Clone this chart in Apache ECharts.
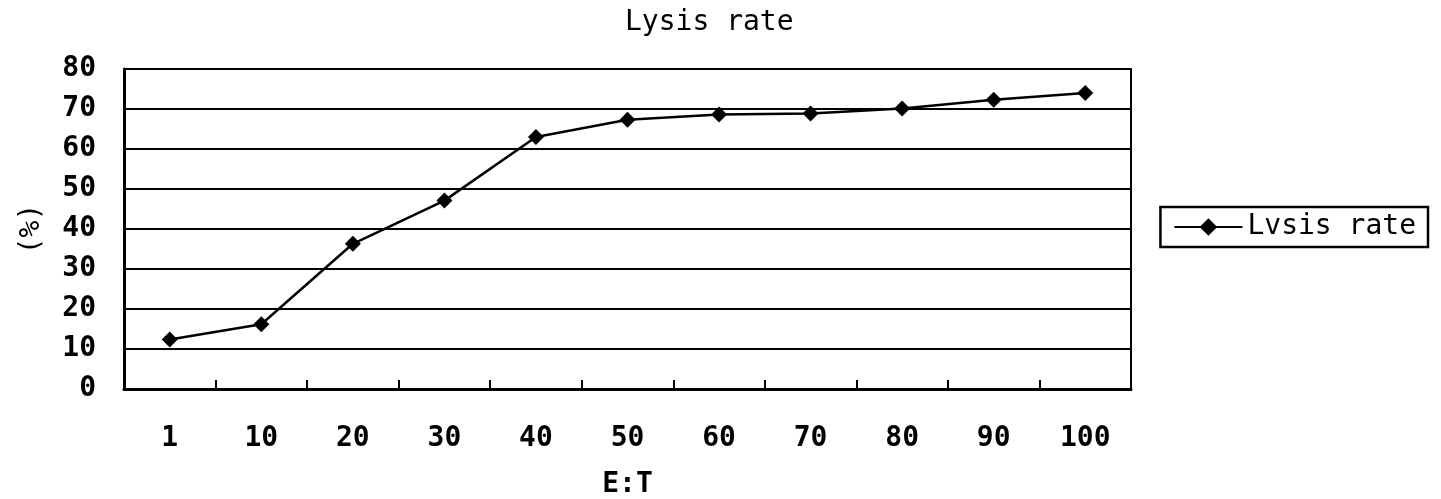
<!DOCTYPE html>
<html>
<head>
<meta charset="utf-8">
<script src="https://cdn.jsdelivr.net/npm/echarts@6/dist/echarts.min.js"></script>
<style>
  html, body { margin: 0; padding: 0; background: #fff; }
  #chart { width: 1441px; height: 499px; }
</style>
</head>
<body>
<div id="chart"></div>
<script>
// E:T ratios and lysis rate (%)
const categories = ['1', '10', '20', '30', '40', '50', '60', '70', '80', '90', '100'];
const lysisRate = [12.4, 16.2, 36.3, 47.1, 63.0, 67.3, 68.6, 68.9, 70.1, 72.3, 74.0];
const yMin = 0, yMax = 80, yStep = 10;

const font = 'DejaVu Sans Mono';
const chart = echarts.init(document.getElementById('chart'));
chart.setOption({
  animation: false,
  backgroundColor: '#fff',
  title: {
    text: 'Lysis rate',
    left: 620,
    top: 4,
    textStyle: { color: '#000', fontSize: 28, fontWeight: 'normal', fontFamily: font }
  },
  legend: {
    right: 13,
    top: 207,
    orient: 'vertical',
    borderColor: '#000',
    borderWidth: 2.5,
    padding: [6, 12, 6, 13],
    itemWidth: 68,
    itemHeight: 22,
    itemGap: 0,
    textStyle: { color: '#000', fontSize: 28, fontFamily: font },
    data: [{ name: 'Lvsis rate' }]
  },
  grid: {
    left: 124,
    right: 310,
    top: 69,
    bottom: 110,
    outerBoundsMode: 'none',
    show: true,
    borderColor: '#000',
    borderWidth: 2
  },
  xAxis: {
    type: 'category',
    data: categories,
    boundaryGap: true,
    name: 'E:T',
    nameLocation: 'middle',
    nameGap: 82,
    nameTextStyle: { color: '#000', fontSize: 28, fontWeight: 'bold', fontFamily: font },
    axisLine: { lineStyle: { color: '#000', width: 3 } },
    axisTick: { show: true, inside: true, length: 9, lineStyle: { color: '#000', width: 2 } },
    axisLabel: { color: '#000', fontSize: 28, fontWeight: 'bold', fontFamily: font, margin: 36 },
    splitLine: { show: false }
  },
  yAxis: {
    type: 'value',
    min: yMin,
    max: yMax,
    interval: yStep,
    name: '(%)',
    nameLocation: 'middle',
    nameRotate: 90,
    nameGap: 78,
    nameTextStyle: { color: '#000', fontSize: 28, fontFamily: font },
    axisLine: { show: true, lineStyle: { color: '#000', width: 3 } },
    axisTick: { show: false },
    axisLabel: { color: '#000', fontSize: 28, fontWeight: 'bold', fontFamily: font, margin: 28 },
    splitLine: { show: true, lineStyle: { color: '#000', width: 2 } }
  },
  series: [{
    name: 'Lvsis rate',
    type: 'line',
    data: lysisRate,
    symbol: 'diamond',
    symbolSize: 16,
    lineStyle: { color: '#000', width: 2.5 },
    itemStyle: { color: '#000' }
  }]
});
</script>
</body>
</html>
